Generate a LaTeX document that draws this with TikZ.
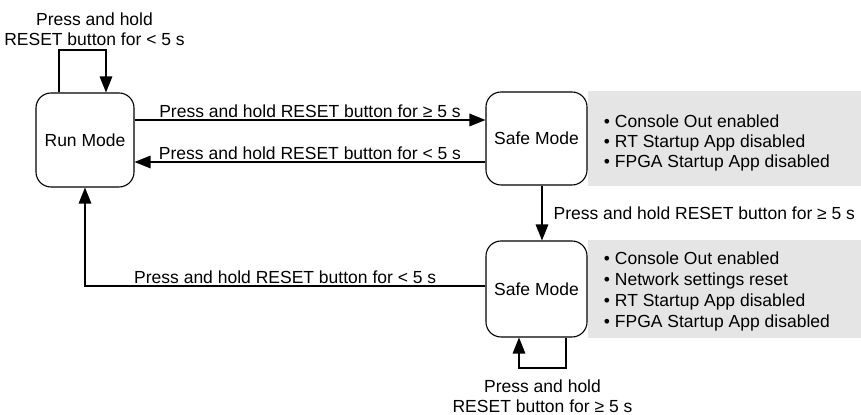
\documentclass[tikz,border=0pt]{standalone}
\usepackage{fontspec}
\setmainfont{Liberation Sans}
\usetikzlibrary{arrows.meta,backgrounds}
\begin{document}
\begin{tikzpicture}[x=0.5pt,y=-0.5pt,
  every node/.style={font=\fontsize{8.75}{10}\selectfont},
  modebox/.style={draw, line width=0.55pt, rounded corners=7.5pt, fill=white, inner sep=0pt, align=center},
  arr/.style={line width=0.6pt, -{Triangle[length=8pt,width=6.3pt]}},
  lbl/.style={inner sep=1pt},
  panel/.style={fill=black!10},
  bullets/.style={align=left, inner sep=0pt, anchor=west}]
\useasboundingbox (0,0) rectangle (861,415);

% states
\node[modebox, minimum width=49pt, minimum height=47pt] (run) at (85,140) {Run Mode};
\node[modebox, minimum width=50.5pt, minimum height=46.5pt] (safeA) at (536.5,138.5) {Safe Mode};
\node[modebox, minimum width=50.5pt, minimum height=48pt] (safeB) at (536.5,289) {Safe Mode};

% grey panels
\coordinate (edge) at (861,0);
\begin{pgfonlayer}{background}
\fill[panel] (safeA.north east) rectangle (safeA.south east -| edge);
\fill[panel] (safeB.north east) rectangle (safeB.south east -| edge);
\end{pgfonlayer}

% bullet lists
\node[bullets] (listA) at ([xshift=8pt,yshift=-2pt]safeA.east)
  {• Console Out enabled\\• RT Startup App disabled\\• FPGA Startup App disabled};
\node[bullets, font=\fontsize{8.75}{10.35}\selectfont] (listB) at ([xshift=8pt,yshift=-1.25pt]safeB.east)
  {• Console Out enabled\\• Network settings reset\\• RT Startup App disabled\\• FPGA Startup App disabled};

% helper coordinates
\coordinate (yA) at (0,120);
\coordinate (yB) at (0,162);
\coordinate (xC) at (542,0);
\coordinate (yD) at (0,286);
\coordinate (rl1) at (59,50);
\coordinate (rl2) at (106,50);
\coordinate (sl1) at (566,368);
\coordinate (sl2) at (519,368);

% transitions
\draw[arr] (run.east |- yA) -- node[lbl, above] (lA) {Press and hold RESET button for ≥ 5 s} (safeA.west |- yA);
\draw[arr] (safeA.west |- yB) -- node[lbl, above] (lB) {Press and hold RESET button for < 5 s} (run.east |- yB);
\draw[arr] (safeA.south -| xC) -- node[lbl, right, xshift=4.5pt] (lC) {Press and hold RESET button for ≥ 5 s} (safeB.north -| xC);
\draw[arr] (safeB.west |- yD) -| node[lbl, above, pos=0.25] (lD) {Press and hold RESET button for < 5 s} (run.south);

% self loops
\draw[arr] (run.north -| rl1) -- (rl1) -- node[above, inner sep=2pt, xshift=6pt, align=center] (lE) {Press and hold\\RESET button for < 5 s} (rl2) -- (run.north -| rl2);
\draw[arr] (safeB.south -| sl1) -- (sl1) -- node[below=4.6pt, inner sep=1pt, align=center] (lF) {Press and hold\\RESET button for ≥ 5 s} (sl2) -- (safeB.south -| sl2);
\end{tikzpicture}
\end{document}
